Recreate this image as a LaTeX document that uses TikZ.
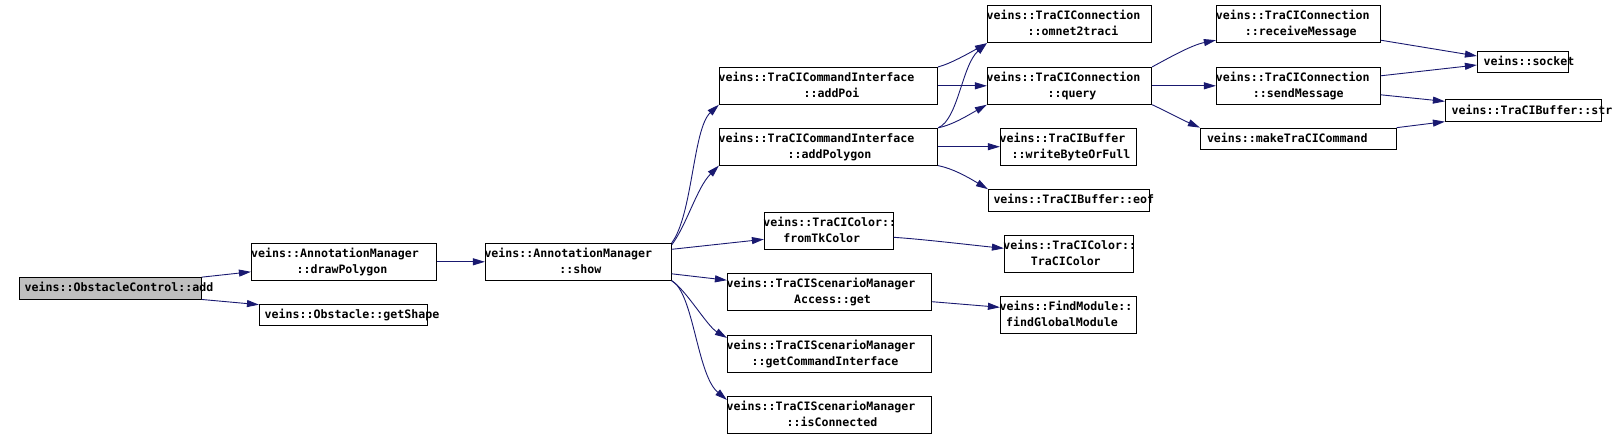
\documentclass[tikz,border=0pt]{standalone}
\usepackage{fontspec}
\setmonofont{DejaVu Sans Mono}
\usepackage{tikz}
\usetikzlibrary{arrows.meta,calc}
\definecolor{edgeblue}{HTML}{191970}
\definecolor{rootgray}{HTML}{BFBFBF}
\newcommand{\fnfont}{\ttfamily\bfseries\fontsize{11.6}{16}\selectfont}
\newcommand{\fnl}[2][0]{\makebox[0pt]{\hspace*{#1pt}\hspace*{#1pt}\rule[-4pt]{0pt}{15pt}#2}}
\tikzstyle{fn} = [rectangle, draw, line width=0.8pt, inner sep=0pt, align=center,
                  font=\fnfont]
\tikzstyle{oneline} = [minimum height=21.5pt]
\tikzstyle{twoline} = [minimum height=37pt]
\tikzstyle{call} = [-{Triangle[length=12pt,width=7pt]}, draw=edgeblue, line width=0.9pt]

\begin{document}
\begin{tikzpicture}[x=1pt,y=-1pt]
    \useasboundingbox (0,0) rectangle (1617,440);
    \node [fn, oneline, fill=rootgray, minimum width=181.7pt] (add) at (110.5,288.3) {\fnl[8.5]{veins::ObstacleControl::add}};
    \node [fn, twoline, minimum width=185.3pt] (drawPolygon) at (344,261.8) {\fnl[-9]{veins::AnnotationManager}\\\fnl[-2]{::drawPolygon}};
    \node [fn, oneline, minimum width=168.3pt] (getShape) at (343.5,314.8) {\fnl[8.5]{veins::Obstacle::getShape}};
    \node [fn, twoline, minimum width=186pt] (show) at (578.3,261.8) {\fnl[-10]{veins::AnnotationManager}\\\fnl[2]{::show}};
    \node [fn, twoline, minimum width=218.4pt] (addPoi) at (828.5,85.8) {\fnl[-12]{veins::TraCICommandInterface}\\\fnl[3]{::addPoi}};
    \node [fn, twoline, minimum width=218.4pt] (addPolygon) at (828.5,146.7) {\fnl[-12]{veins::TraCICommandInterface}\\\fnl[1]{::addPolygon}};
    \node [fn, twoline, minimum width=164.4pt] (omnet2traci) at (1069.5,24.3) {\fnl[-6]{veins::TraCIConnection}\\\fnl[3.5]{::omnet2traci}};
    \node [fn, twoline, minimum width=164.4pt] (query) at (1069.5,85.8) {\fnl[-6]{veins::TraCIConnection}\\\fnl[2.5]{::query}};
    \node [fn, twoline, minimum width=136.4pt] (writeByteOrFull) at (1068.5,146.7) {\fnl[-6]{veins::TraCIBuffer}\\\fnl[2.5]{::writeByteOrFull}};
    \node [fn, oneline, minimum width=161pt] (eof) at (1068.8,200.3) {\fnl[5]{veins::TraCIBuffer::eof}};
    \node [fn, twoline, minimum width=129pt] (fromTkColor) at (828.8,230.8) {\fnl[1]{veins::TraCIColor::}\\\fnl[-7]{fromTkColor}};
    \node [fn, twoline, minimum width=129pt] (TraCIColor) at (1068.8,253.8) {\fnl[1]{veins::TraCIColor::}\\\fnl[-3]{TraCIColor}};
    \node [fn, twoline, minimum width=204.4pt] (get) at (829.5,292.2) {\fnl[-8.5]{veins::TraCIScenarioManager}\\\fnl[3]{Access::get}};
    \node [fn, twoline, minimum width=136.4pt] (findGlobalModule) at (1068.5,315) {\fnl[-2.5]{veins::FindModule::}\\\fnl[-6.5]{findGlobalModule}};
    \node [fn, twoline, minimum width=204.4pt] (getCommandInterface) at (829.5,353.8) {\fnl[-8.5]{veins::TraCIScenarioManager}\\\fnl[-4.5]{::getCommandInterface}};
    \node [fn, twoline, minimum width=204.4pt] (isConnected) at (829.5,414.8) {\fnl[-8.5]{veins::TraCIScenarioManager}\\\fnl[2.5]{::isConnected}};
    \node [fn, twoline, minimum width=164pt] (receiveMessage) at (1298.3,24.3) {\fnl[-5.5]{veins::TraCIConnection}\\\fnl[2.5]{::receiveMessage}};
    \node [fn, twoline, minimum width=164pt] (sendMessage) at (1298.3,85.8) {\fnl[-5.5]{veins::TraCIConnection}\\\fnl{::sendMessage}};
    \node [fn, oneline, minimum width=196pt] (makeTraCICommand) at (1298.3,138.8) {\fnl[-11]{veins::makeTraCICommand}};
    \node [fn, oneline, minimum width=91.4pt] (socket) at (1523,62) {\fnl[6]{veins::socket}};
    \node [fn, oneline, minimum width=156.4pt] (str) at (1523.5,110.5) {\fnl[8.5]{veins::TraCIBuffer::str}};

    \draw [call] (add.north east) -- ($(drawPolygon.west)+(0,10)$);
    \draw [call] (add.south east) -- ($(getShape.north west)+(0,1)$);
    \draw [call] (drawPolygon) -- (show);
    \draw [call] (show.north east) .. controls +(21,-28) and +(-26,24) .. (addPoi.south west);
    \draw [call] ($(show.north east)+(0,2)$) .. controls +(15,-20) and +(-22,22) .. (addPolygon.south west);
    \draw [call] ($(show.east)+(0,-12.5)$) -- ($(fromTkColor.west)+(0,8.5)$);
    \draw [call] ($(show.east)+(0,12)$) -- ($(get.west)+(0,-12)$);
    \draw [call] (show.south east) .. controls +(15,10) and +(-20,-12) .. ($(getCommandInterface.north west)+(0,3)$);
    \draw [call] (show.south east) .. controls +(22,12) and +(-30,-25) .. ($(isConnected.north west)+(0,4)$);
    \draw [call] (addPoi.north east) .. controls +(12,-3) and +(-18,10) .. (omnet2traci.south west);
    \draw [call] (addPoi) -- (query);
    \draw [call] (addPolygon.north east) .. controls +(20,-8) and +(-25,22) .. (omnet2traci.south west);
    \draw [call] (addPolygon.north east) .. controls +(15,-3) and +(-18,10) .. (query.south west);
    \draw [call] (addPolygon) -- (writeByteOrFull);
    \draw [call] (addPolygon.south east) .. controls +(15,3) and +(-20,-12) .. (eof.north west);
    \draw [call] (query.north east) .. controls +(15,-8) and +(-25,5) .. ($(receiveMessage.south west)+(0,-3)$);
    \draw [call] (query) -- (sendMessage);
    \draw [call] (query.south east) .. controls +(15,7) and +(-18,-8) .. (makeTraCICommand.north west);
    \draw [call] ($(receiveMessage.south east)+(0,-3)$) -- ($(socket.west)+(0,-6)$);
    \draw [call] ($(sendMessage.east)+(0,-10)$) -- ($(socket.west)+(0,3)$);
    \draw [call] ($(sendMessage.east)+(0,9)$) -- ($(str.north west)+(0,2)$);
    \draw [call] (makeTraCICommand.north east) -- (str.south west);
    \draw [call] ($(fromTkColor.east)+(0,6.5)$) .. controls +(30,2) and +(-30,-3) .. ($(TraCIColor.west)+(0,-5.5)$);
    \draw [call] ($(get.east)+(0,9.5)$) -- ($(findGlobalModule.west)+(0,-7.7)$);
\end{tikzpicture}
\end{document}
